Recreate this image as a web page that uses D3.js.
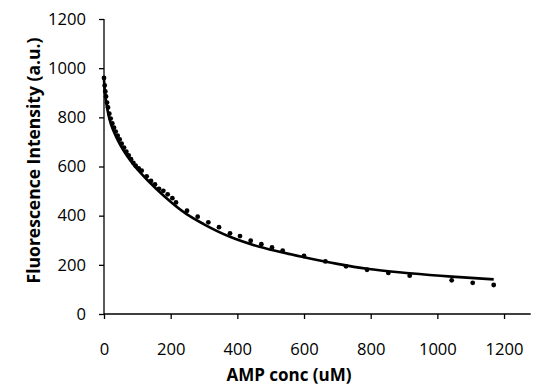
<!DOCTYPE html>
<html><head><meta charset="utf-8">
<script src="https://cdn.jsdelivr.net/npm/d3@7"></script>
<style>body{margin:0;background:#fff}svg{display:block}</style>
</head><body>
<svg id="c" width="535" height="392"></svg>
<script>
const xTicks = [0,200,400,600,800,1000,1200];
const yTicks = [0,200,400,600,800,1000,1200];
const dotX = [0,2,4,6,9,12,16,20,25,30,35,41,47,53,60,67,74,81,88,95,104,113,128,141,153,165,178,191,205,216,249,281,313,345,378,408,440,472,504,536,600,664,726,789,853,917,1043,1106,1169];
const dotY = [960,930,905,885,860,840,815,795,775,758,742,725,710,693,677,660,645,630,615,603,592,583,560,541,527,509,501,487,471,454,420,396,373,353,328,317,298,284,271,258,236,214,194,180,167,156,137,127,118];
const fitX = [0,3,8,15,30,50,87,130,180,249,300,378,450,520,600,700,789,917,1043,1169];
const fitY = [955,900,850,800,740,685,610,545,480,405,365,314,280,255,231,204,184,166,152,141];
const xLabel = "AMP conc (uM)";
const yLabel = "Fluorescence Intensity (a.u.)";

const svg = d3.select("#c");
const x = d3.scaleLinear().domain([0,1280]).range([104,530.7]);
const y = d3.scaleLinear().domain([0,1200]).range([314,19]);
const font = "'Open Sans', sans-serif";

const xAxis = svg.append("g").attr("transform","translate(0,314)")
  .call(d3.axisBottom(x).tickValues(xTicks).tickSize(5).tickPadding(24).tickFormat(d3.format("d")));
const yAxis = svg.append("g").attr("transform","translate(104,0)")
  .call(d3.axisLeft(y).tickValues(yTicks).tickSize(5).tickPadding(13).tickFormat(d3.format("d")));
[xAxis,yAxis].forEach(g=>{
  g.selectAll("path").attr("stroke","#000").attr("stroke-width",1.3);
  g.selectAll("line").attr("stroke","#000").attr("stroke-width",1.3);
  g.selectAll("text").attr("font-family",font).attr("font-size",16.6).attr("fill","#000");
});
yAxis.select(".domain").attr("d","M-0,314V19");
xAxis.select(".domain").attr("d","M"+x(0)+",0H"+x(1280));

const pts = dotX.map((d,i)=>({x:d,y:dotY[i]}));
const fit = fitX.map((d,i)=>({x:d,y:fitY[i]}));

svg.append("path").datum(fit)
  .attr("fill","none").attr("stroke","#000").attr("stroke-width",2.6)
  .attr("d", d3.line().x(d=>x(d.x)).y(d=>y(d.y)).curve(d3.curveMonotoneX));

svg.append("g").selectAll("circle").data(pts).join("circle")
  .attr("cx",d=>x(d.x)).attr("cy",d=>y(d.y)).attr("r",2.4).attr("fill","#000");

svg.append("text").attr("x",289).attr("y",381).attr("text-anchor","middle")
  .attr("font-family",font).attr("font-weight","bold").attr("font-size",17).text(xLabel);
svg.append("text").attr("transform","translate(39.5,160.5) rotate(-90)").attr("text-anchor","middle")
  .attr("font-family",font).attr("font-weight","bold").attr("font-size",17.5).text(yLabel);
</script>
</body></html>
